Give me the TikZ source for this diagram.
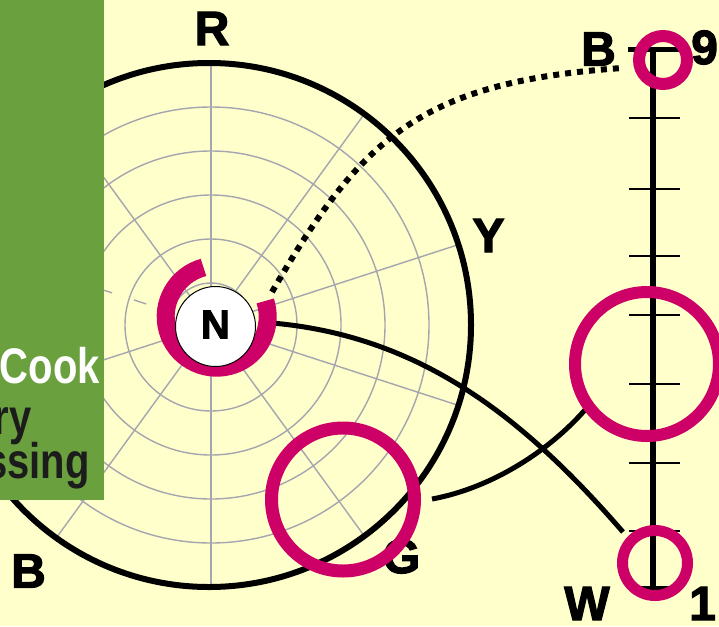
\documentclass[tikz,border=0pt]{standalone}
\usepackage{fontspec}
\newfontfamily\labf{Liberation Sans}[BoldFeatures={FakeBold=2.5}]
\newfontfamily\grnf{Liberation Sans}
\definecolor{bgc}{RGB}{255,255,204}
\definecolor{magc}{RGB}{204,0,102}
\definecolor{grnc}{RGB}{107,160,62}
\definecolor{gridc}{RGB}{165,165,175}
\definecolor{darkc}{RGB}{28,28,28}
\tikzset{
  gridline/.style={draw=gridc, line width=1.4pt},
  blackring/.style={draw=black, line width=6pt},
  lab/.style={inner sep=0pt, font=\labf\bfseries\fontsize{48}{48}\selectfont},
  greentxt/.style={inner sep=0pt, anchor=base east, font=\grnf\bfseries\fontsize{50}{50}\selectfont},
  mring/.style={circle, draw=magc, inner sep=0pt},
  conn/.style={draw=black, line width=5pt},
  dotline/.style={draw=black, line width=6pt, dash pattern=on 6pt off 6pt},
  tickthin/.style={draw=black, line width=2.5pt},
}
\begin{document}
\begin{tikzpicture}[x=1pt,y=-1pt]
\useasboundingbox (0,0) rectangle (719,626);
\fill[bgc] (0,0) rectangle (719,626);
% polar grid
\begin{scope}
  \clip (209,325) circle (262);
  \foreach \r in {42,86,130,174,218} \draw[gridline] (211,325) circle (\r);
  \foreach \a in {18,54,90,126,162,234,270,306,342} \draw[gridline] (211,325) -- ++(\a:300);
  \draw[gridline] (211,325) ++(198:68) -- ++(198:13);
  \draw[gridline] (211,325) ++(198:104) -- ++(198:13);
\end{scope}
\draw[blackring] (209,325) circle (262);
% labels
\node[lab] (lR) at (212,28.5) {R};
\node[lab] (lY) at (488.5,235.5) {Y};
\node[lab] (lG) at (401.5,556.5) {G};
\node[lab] (lB) at (28.5,571) {B};
\node[lab] (lBt) at (598.5,49) {B};
\node[lab, anchor=west] (l9) at (691,47.5) {9};
\node[lab] (lW) at (587,603.5) {W};
\node[lab, anchor=west] (l1) at (689,603.5) {1};
% green panel
\fill[grnc] (0,0) rectangle (103.5,499.5);
\begin{scope}
  \clip (0,0) rectangle (103.5,499.5);
  \node[greentxt, text=white] (tcook) at (100,383) {\scalebox{0.8}[1]{Cook}};
  \node[greentxt, text=darkc] (try) at (32,434) {\scalebox{0.8}[1]{ry}};
  \node[greentxt, text=darkc] (tssing) at (90,478) {\scalebox{0.8}[1]{ssing}};
\end{scope}
% value axis
\coordinate (axtop) at (653,50);
\coordinate (axbot) at (653,588);
\draw[line width=6pt] (axtop) -- (axbot);
\draw[line width=5pt] (628,50) -- (679,50);
\draw[line width=3.5pt] (629,588) -- (680,588);
\foreach \t in {118,189,256,315,384,463,531} \draw[tickthin] (629,\t) -- (680,\t);
% connectors
\coordinate (dA) at (272,292);
\coordinate (dB) at (622,68);
\coordinate (nA) at (272,323);
\coordinate (nB) at (623,532);
\coordinate (gA) at (432,499);
\coordinate (gB) at (590,404);
\draw[dotline] (dA) .. controls (362,136) and (422,82) .. (dB);
\draw[conn] (nA) .. controls (422,336) and (525,419) .. (nB);
\draw[conn] (gA) .. controls (492,488) and (552,450) .. (gB);
% N ring and disc
\draw[draw=magc, line width=18pt] (216.7,316.7) ++(-105:51) arc[start angle=-105, end angle=-378, radius=51];
\node[circle, draw=black, fill=white, line width=1pt, minimum size=80pt, inner sep=0pt,
      font=\labf\bfseries\fontsize{40}{40}\selectfont] (N) at (215.5,326.5) {\raisebox{4pt}{N}};
% magenta rings
\node[mring, line width=12pt, minimum size=48pt] (topc) at (663,60) {};
\node[mring, line width=12pt, minimum size=144pt] (bigc) at (647,364) {};
\node[mring, line width=11pt, minimum size=65pt] (botc) at (655,563) {};
\node[mring, line width=13pt, minimum size=143pt] (gc) at (343,499.5) {};
\end{tikzpicture}
\end{document}
